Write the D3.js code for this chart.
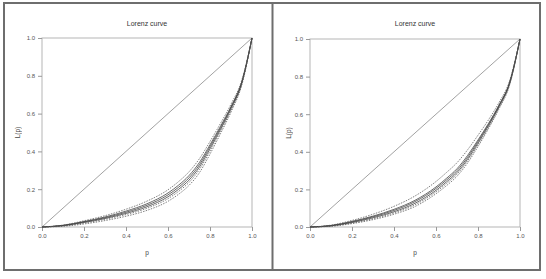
<!DOCTYPE html>
<html><head><meta charset="utf-8">
<script src="https://cdn.jsdelivr.net/npm/d3@7"></script>
<style>body{margin:0;background:#fff}svg{display:block}text{opacity:0.99}</style>
</head><body>
<svg id="c" width="546" height="279"></svg>
<script>
const pGrid = [0, .1, .2, .3, .4, .5, .6, .65, .7, .75, .8, .85, .9, .95, 1];
const tickValues = [0, 0.2, 0.4, 0.6, 0.8, 1.0];
const tickLabels = ["0.0", "0.2", "0.4", "0.6", "0.8", "1.0"];
const title = "Lorenz curve";
const xLabel = "p";
const yLabel = "L(p)";

const leftDotUp   = [0, .010, .033, .060, .094, .137, .197, .240, .292, .362, .452, .548, .650, .772, 1];
const leftSolidA  = [0, .009, .029, .053, .084, .123, .180, .221, .272, .342, .435, .533, .638, .764, 1];
const leftSolidB  = [0, .008, .027, .049, .078, .115, .170, .210, .260, .330, .425, .525, .632, .760, 1];
const leftSolidC  = [0, .007, .024, .045, .072, .107, .160, .199, .248, .318, .414, .516, .625, .756, 1];
const leftDotMid  = [0, .006, .021, .041, .066, .099, .150, .188, .236, .305, .402, .507, .618, .752, 1];
const leftDotLow  = [0, .004, .016, .034, .057, .088, .136, .173, .220, .288, .386, .494, .608, .746, 1];

const rightDotUp  = [0, .010, .035, .068, .110, .165, .242, .290, .342, .410, .488, .570, .662, .776, 1];
const rightSolidA = [0, .008, .030, .058, .094, .142, .213, .259, .310, .380, .463, .551, .649, .768, 1];
const rightSolidB = [0, .007, .027, .054, .088, .135, .205, .250, .300, .370, .455, .545, .645, .765, 1];
const rightSolidC = [0, .006, .024, .049, .081, .126, .195, .240, .290, .360, .446, .538, .640, .762, 1];
const rightDotMid = [0, .005, .021, .044, .075, .118, .187, .231, .281, .351, .438, .531, .635, .758, 1];
const rightDotLow = [0, .004, .018, .039, .068, .109, .177, .220, .270, .340, .428, .523, .628, .753, 1];

const DOT = "1.5,1.2";
const panels = [
  {x0: 42, x1: 252, y0: 227, y1: 38, titleX: 147, ylabX: 18,
   series: [
     {v: leftSolidA, dash: null}, {v: leftSolidB, dash: null}, {v: leftSolidC, dash: null},
     {v: leftDotUp, dash: DOT}, {v: leftDotMid, dash: DOT}, {v: leftDotLow, dash: DOT}]},
  {x0: 310, x1: 520, y0: 227, y1: 39, titleX: 415, ylabX: 289,
   series: [
     {v: rightSolidA, dash: null}, {v: rightSolidB, dash: null}, {v: rightSolidC, dash: null},
     {v: rightDotUp, dash: DOT}, {v: rightDotMid, dash: DOT}, {v: rightDotLow, dash: DOT}]}
];

const svg = d3.select("#c");
const font = "Liberation Sans, Arial, sans-serif";

svg.append("rect").attr("x", 4).attr("y", 3).attr("width", 536).attr("height", 267)
  .attr("fill", "none").attr("stroke", "#6e6e6e").attr("stroke-width", 2);
svg.append("line").attr("x1", 272.5).attr("x2", 272.5).attr("y1", 3).attr("y2", 270)
  .attr("stroke", "#6e6e6e").attr("stroke-width", 2);

panels.forEach(P => {
  const x = d3.scaleLinear().domain([0, 1]).range([P.x0, P.x1]);
  const y = d3.scaleLinear().domain([0, 1]).range([P.y0, P.y1]);
  const g = svg.append("g");

  g.append("rect").attr("x", P.x0).attr("y", P.y1).attr("width", P.x1 - P.x0).attr("height", P.y0 - P.y1)
    .attr("fill", "none").attr("stroke", "#b5b5b5").attr("stroke-width", 1);

  const xa = g.append("g").attr("transform", `translate(0,${P.y0})`)
    .call(d3.axisBottom(x).tickValues(tickValues).tickFormat((d, i) => tickLabels[i]).tickSize(4).tickPadding(3));
  const ya = g.append("g").attr("transform", `translate(${P.x0},0)`)
    .call(d3.axisLeft(y).tickValues(tickValues).tickFormat((d, i) => tickLabels[i]).tickSize(4).tickPadding(3));
  [xa, ya].forEach(a => {
    a.select(".domain").remove();
    a.selectAll("line").attr("stroke", "#999");
    a.selectAll("text").attr("fill", "#555").attr("font-size", 6).attr("font-family", font);
  });

  g.append("line").attr("x1", x(0)).attr("y1", y(0)).attr("x2", x(1)).attr("y2", y(1))
    .attr("stroke", "#8a8a8a").attr("stroke-width", 0.8);

  const line = d3.line().x((d, i) => x(pGrid[i])).y(d => y(d)).curve(d3.curveMonotoneX);
  P.series.forEach(s => {
    g.append("path").attr("d", line(s.v)).attr("fill", "none")
      .attr("stroke", s.dash ? "#555" : "#3a3a3a").attr("stroke-width", 0.75)
      .attr("stroke-dasharray", s.dash);
  });

  g.append("text").attr("x", P.titleX).attr("y", 26).attr("text-anchor", "middle")
    .attr("font-size", 7).attr("font-family", font).attr("fill", "#333").text(title);
  g.append("text").attr("x", (P.x0 + P.x1) / 2).attr("y", 255).attr("text-anchor", "middle")
    .attr("font-size", 6.5).attr("font-family", font).attr("fill", "#444").text(xLabel);
  g.append("text").attr("transform", `translate(${P.ylabX + 2},${(P.y0 + P.y1) / 2}) rotate(-90)`)
    .attr("text-anchor", "middle").attr("font-size", 6.5).attr("font-family", font).attr("fill", "#444").text(yLabel);
});
</script>
</body></html>
